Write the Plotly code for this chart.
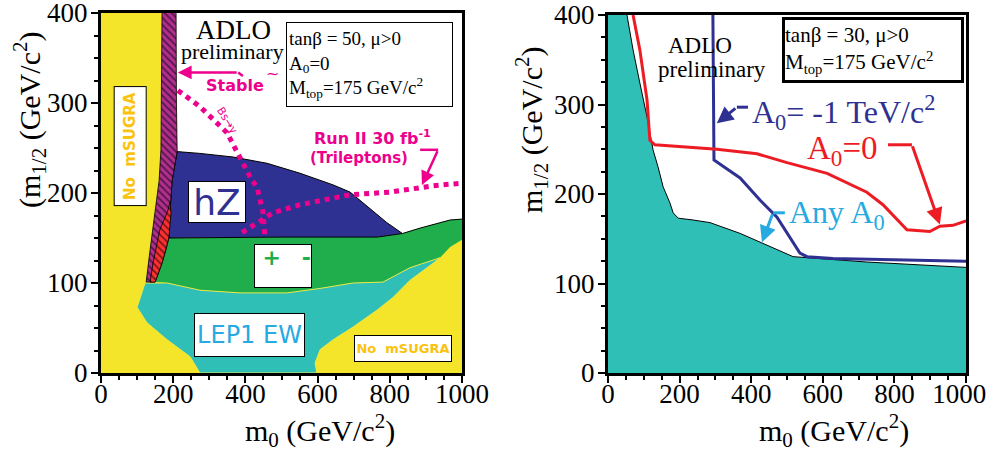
import plotly.graph_objects as go

# ---------------- axes ----------------
M0_RANGE = [0, 1000]
M12_RANGE = [0, 400]
M0_TICKS = [0, 200, 400, 600, 800, 1000]
M12_TICKS = [0, 100, 200, 300, 400]

# ---------------- tanβ = 50 panel: region boundaries (m0, m1/2) ----------------
# allowed region not yet covered
white_m0 = [208, 1000, 1000, 994, 967, 884, 835, 792, 745, 690, 643, 551, 460, 366, 274, 211, 209, 208]
white_m12 = [400, 400, 171, 171, 170, 161, 155, 167, 183, 201, 209, 222, 233, 240, 244, 246, 300, 340]

# hZ search exclusion
hz_m0 = [211, 274, 366, 460, 551, 643, 690, 745, 792, 835, 765, 500, 188, 191, 197, 211]
hz_m12 = [246, 244, 240, 233, 222, 209, 201, 183, 167, 155, 151, 151, 150, 178, 214, 246]

# chargino (+ -) exclusion
chi_m0 = [188, 500, 765, 835, 884, 967, 1000, 1000, 967, 939, 856, 781, 698, 607, 515, 385, 274, 183, 150, 169, 180, 188]
chi_m12 = [150, 151, 151, 155, 161, 170, 171, 148, 140, 128, 117, 101, 100, 94, 89, 89, 92, 100, 101, 122, 137, 150]
chi_edge_m0 = [835, 884, 967, 1000]
chi_edge_m12 = [155, 161, 170, 171]

# LEP1 electroweak exclusion
lep1_m0 = [122, 183, 274, 385, 515, 607, 698, 781, 856, 939, 920, 856, 809, 765, 698, 643, 607, 593, 598, 274, 247, 183, 127, 100, 122]
lep1_m12 = [100, 100, 92, 89, 89, 94, 100, 101, 117, 128, 122, 103, 84, 70, 51, 37, 26, 11, 0, 0, 18, 37, 56, 73, 100]

# stable (charged LSP) band and the slepton band below it
stable_m0 = [208, 208, 209, 211, 197, 191, 188, 180, 169, 150, 125, 136, 150, 161, 166, 169, 169]
stable_m12 = [400, 340, 300, 246, 214, 178, 150, 137, 122, 101, 101, 137, 178, 214, 248, 340, 400]
slep_m0 = [191, 194, 188, 180, 169, 150, 136, 144, 163, 185, 191]
slep_m12 = [190, 178, 150, 137, 122, 101, 101, 122, 159, 180, 190]

# b -> s gamma limit and Run II trilepton reach
bsg_m0 = [213, 274, 349, 385, 418, 432, 449, 454]
bsg_m12 = [314, 296, 267, 240, 214, 207, 178, 151]
tri_m0 = [391, 476, 551, 690, 801, 920, 1000]
tri_m12 = [156, 178, 187, 198, 201, 208, 211]

# ---------------- tanβ = 30 panel ----------------
any_a0_m0 = [53, 70, 89, 109, 126, 140, 154, 173, 182, 196, 237, 285, 369, 433, 517, 723, 1000]
any_a0_m12 = [400, 361, 324, 286, 249, 230, 208, 190, 179, 173, 171, 168, 156, 145, 130, 124, 118]
a0_m1_m0 = [293, 296, 369, 425, 472, 536, 556, 628, 1000]
a0_m1_m12 = [400, 238, 218, 193, 174, 134, 130, 128, 125]
a0_0_m0 = [70, 89, 109, 117, 131, 304, 416, 500, 612, 723, 768, 835, 899, 927, 964, 1000]
a0_0_m12 = [400, 361, 305, 260, 255, 250, 245, 235, 223, 202, 188, 160, 158, 164, 165, 170]

YELLOW = "#f5e52a"
WHITE = "#ffffff"
NAVY = "#2e3192"
GREEN = "#1fae4b"
TEAL = "#30bfb7"
MAGENTA = "#ec008c"
LIGHTBLUE = "#27a9e1"
GOLD = "#fbc20e"
RED = "#ed1c24"
SERIF = "Liberation Serif"
SANS = "DejaVu Sans"

fig = go.Figure()


def area(xs, ys, color, ax="", line_color=None, line_width=0, pattern=None):
    kw = dict(x=xs, y=ys, fill="toself", mode="lines", fillcolor=color,
              line=dict(color=line_color or color, width=line_width),
              hoverinfo="skip", showlegend=False,
              xaxis="x" + ax, yaxis="y" + ax)
    if pattern:
        kw["fillpattern"] = pattern
    fig.add_trace(go.Scatter(**kw))


def curve(xs, ys, color, width, ax="", dash="solid"):
    fig.add_trace(go.Scatter(x=xs, y=ys, mode="lines",
                             line=dict(color=color, width=width, dash=dash),
                             hoverinfo="skip", showlegend=False,
                             xaxis="x" + ax, yaxis="y" + ax))


frame_m0 = [M0_RANGE[0], M0_RANGE[1], M0_RANGE[1], M0_RANGE[0]]
frame_m12 = [M12_RANGE[0], M12_RANGE[0], M12_RANGE[1], M12_RANGE[1]]

# left panel layers
area(frame_m0, frame_m12, YELLOW)
area(white_m0, white_m12, WHITE)
area(chi_m0, chi_m12, GREEN)
area(hz_m0, hz_m12, NAVY, line_color="black", line_width=1)
curve(chi_edge_m0, chi_edge_m12, "black", 1)
area(lep1_m0, lep1_m12, TEAL, line_color="#e8e84a", line_width=1)
area(stable_m0, stable_m12, "#b12f8f", line_color="black", line_width=0.8,
     pattern=dict(shape="\\", bgcolor="#b12f8f", fgcolor="black", size=5, solidity=0.35))
area(slep_m0, slep_m12, "#ff3030", line_color="black", line_width=0.8,
     pattern=dict(shape="\\", bgcolor="#ff3030", fgcolor="black", size=5, solidity=0.35))
curve(bsg_m0, bsg_m12, MAGENTA, 5, dash="dot")
curve(tri_m0, tri_m12, MAGENTA, 5, dash="dot")
curve([393, 380], [330, 334], MAGENTA, 2.5)
curve([884, 934], [248, 248], MAGENTA, 2.5)

# right panel layers
area([0, 0] + any_a0_m0 + [M0_RANGE[1]], [0, 400] + any_a0_m12 + [0], TEAL, ax="2")
curve(any_a0_m0, any_a0_m12, "black", 1, ax="2")
curve(a0_m1_m0, a0_m1_m12, NAVY, 3, ax="2")
curve(a0_0_m0, a0_0_m12, RED, 3, ax="2")
curve([391, 360], [297, 297], NAVY, 3, ax="2")
curve([782, 849], [255, 255], RED, 3, ax="2")
curve([494, 461], [179, 179], LIGHTBLUE, 3, ax="2")

ann = []


def text(x, y, s, size, color="black", family=SERIF, ax="", **kw):
    d = dict(x=x, y=y, xref="x" + ax, yref="y" + ax, text=s, showarrow=False,
             font=dict(size=size, color=color, family=family))
    d.update(kw)
    ann.append(d)


def arrow(x, y, tx, ty, color, ax="", width=2.5):
    ann.append(dict(x=x, y=y, ax=tx, ay=ty, xref="x" + ax, yref="y" + ax,
                    axref="x" + ax, ayref="y" + ax, text="", showarrow=True,
                    arrowhead=2, arrowsize=1.1, arrowwidth=width,
                    arrowcolor=color, standoff=0))


box = dict(bgcolor="white", bordercolor="black", borderwidth=1)

# left panel labels
text(368, 381, "ADLO", 27)
text(363, 357, "preliminary", 22)
text(745, 343, "tanβ = 50, μ>0<br>A<sub>0</sub>=0<br>M<sub>top</sub>=175 GeV/c<sup>2</sup>",
     19, align="left", width=161, height=79, borderpad=2, **box)
text(371, 319, "<b>Stable</b>", 16, MAGENTA, SANS)
text(476, 333, "~", 16, MAGENTA, SANS)
text(350, 281, "Bs→γ", 11, MAGENTA, SANS, textangle=58)
text(751, 262, "<b>Run II 30 fb<sup>-1</sup></b>", 16, MAGENTA, SANS)
text(715, 239, "<b>(Trileptons)</b>", 15, MAGENTA, SANS)
text(321, 190, "hZ", 36, NAVY, SANS, width=56, height=40, borderpad=0, **box)
text(504, 119, "<b>+</b>   <b>-</b>", 22, GREEN, SANS, width=56, height=42,
     valign="top", align="right", borderpad=0, **box)
text(410, 42, "LEP1 EW", 24, LIGHTBLUE, SANS, width=109, height=42, borderpad=0, **box)
text(837, 27, "<b>No  mSUGRA</b>", 13, GOLD, SANS, width=96, height=25, borderpad=0, **box)
text(80, 252, "<b>No  mSUGRA</b>", 15, GOLD, SANS, textangle=-90, width=118, height=31,
     borderpad=0, **box)
arrow(213, 334, 380, 334, MAGENTA)
arrow(889, 209, 934, 248, MAGENTA)

# right panel labels
text(257, 366, "ADLO", 23, ax="2")
text(291, 339, "preliminary", 23, ax="2")
text(740, 361, "tanβ = 30, μ>0<br>M<sub>top</sub>=175 GeV/c<sup>2</sup>", 21, ax="2",
     align="left", width=176, height=60, borderpad=0,
     bgcolor="white", bordercolor="black", borderwidth=3)
text(397, 291, "A<sub>0</sub>= -1 TeV/c<sup>2</sup>", 32, NAVY, ax="2", xanchor="left")
text(550, 249, "A<sub>0</sub>=0", 33, RED, ax="2", xanchor="left")
text(500, 177, "Any A<sub>0</sub>", 32, LIGHTBLUE, ax="2", xanchor="left")
arrow(304, 279, 360, 297, NAVY, ax="2", width=3)
arrow(927, 166, 849, 255, RED, ax="2", width=3)
arrow(430, 146, 461, 179, LIGHTBLUE, ax="2", width=3)

# axis titles
title_font = dict(size=30, family=SERIF, color="black")
centered = dict(xref="paper", yref="paper", showarrow=False, xanchor="center", yanchor="middle")
ann += [
    dict(x=320 / 990, y=1 - 430 / 450, text="m<sub>0</sub> (GeV/c<sup>2</sup>)",
         font=title_font, **centered),
    dict(x=834 / 990, y=1 - 430 / 450, text="m<sub>0</sub> (GeV/c<sup>2</sup>)",
         font=title_font, **centered),
    dict(x=30 / 990, y=1 - 120 / 450, textangle=-90,
         text="(m<sub>1/2</sub> (GeV/c<sup>2</sup>)", font=title_font, **centered),
    dict(x=531 / 990, y=1 - 130 / 450, textangle=-90,
         text="m<sub>1/2</sub> (GeV/c<sup>2</sup>)", font=title_font, **centered),
]

# right-panel m0 labels: the last one is nudged inward so it stays on the page
right_m0_ticktext = [str(v) for v in M0_TICKS]
right_m0_ticktext[-1] += "\u00a0\u00a0"

tick_font = dict(size=27, family=SERIF, color="black")
common = dict(ticks="outside", ticklen=7, tickwidth=1.5, tickcolor="black",
              showline=True, linewidth=3, linecolor="black", mirror=True,
              showgrid=False, zeroline=False, tickfont=tick_font, automargin=False,
              ticklabeloverflow="allow")
xcommon = dict(range=M0_RANGE, tickvals=M0_TICKS, ticklabelstandoff=-12,
               minor=dict(dtick=50, ticks="outside", ticklen=4, tickcolor="black", showgrid=False),
               **common)
ycommon = dict(range=M12_RANGE, tickvals=M12_TICKS, ticklabelstandoff=-2,
               minor=dict(dtick=25, ticks="outside", ticklen=4, tickcolor="black", showgrid=False),
               **common)

fig.update_layout(
    width=990, height=450, margin=dict(l=0, r=0, t=0, b=0, autoexpand=False),
    paper_bgcolor="white", plot_bgcolor="white", showlegend=False,
    xaxis=dict(domain=[101 / 990, 462 / 990], anchor="y", **xcommon),
    yaxis=dict(domain=[1 - 373 / 450, 1 - 13 / 450], anchor="x", **ycommon),
    xaxis2=dict(domain=[608 / 990, 966 / 990], anchor="y2", tickmode="array",
                ticktext=right_m0_ticktext, **xcommon),
    yaxis2=dict(domain=[1 - 373 / 450, 1 - 15 / 450], anchor="x2", **ycommon),
    annotations=ann,
)

fig.write_html("out.html")
